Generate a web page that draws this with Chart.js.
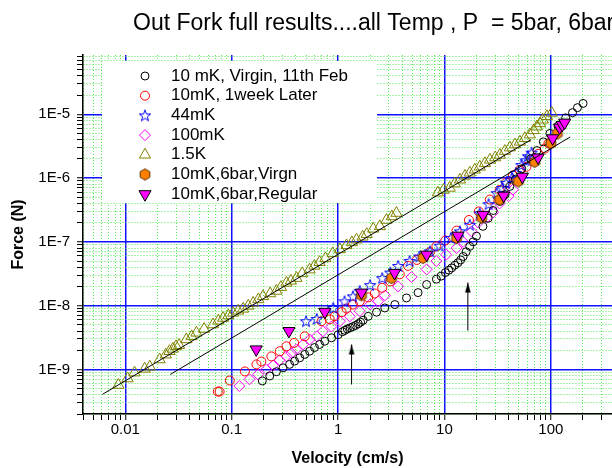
<!DOCTYPE html>
<html>
<head>
<meta charset="utf-8">
<script src="https://cdn.jsdelivr.net/npm/chart.js@4.4.0/dist/chart.umd.min.js"></script>
<style>
html,body{margin:0;padding:0;background:#fff;}
#wrap{width:612px;height:468px;}
</style>
</head>
<body>
<div id="wrap"><canvas id="myChart" width="612" height="468"></canvas></div>
<script>
// Out Fork force vs velocity, log-log
const chartTitle = 'Out Fork full results....all Temp , P  = 5bar, 6bar';
const xTitle = 'Velocity (cm/s)';
const yTitle = 'Force (N)';
const xRange = [0.004, 376];
const yRange = [2e-10, 8.5e-5];

const seriesLabels = ['10 mK, Virgin, 11th Feb', '10mK, 1week Later', '44mK', '100mK', '1.5K', '10mK,6bar,Virgn', '10mK,6bar,Regular'];

// 10 mK virgin (black open circles)
const virginV = [0.194,0.228,0.263,0.304,0.35,0.39,0.436,0.486,0.54,0.6,0.67,0.75,0.87,1.0,1.1,1.16,1.22,1.3,1.38,1.46,1.55,1.63,1.72,1.92,2.3,2.75,3.42,4.4,5.65,6.8,8.4,9.3,10.2,11.0,11.7,12.5,13.4,14.2,15,16,17.3,18.6,20,23,25.8,28.7,33.2,37.2,41.2,46.4,53.3,64.5,74,85,98,117,138,160,178,201];
const virginF = [6.6e-10,7.9e-10,9.2e-10,1.06e-9,1.2e-9,1.35e-9,1.52e-9,1.72e-9,1.93e-9,2.2e-9,2.46e-9,2.77e-9,3.13e-9,3.5e-9,3.9e-9,4.1e-9,4.3e-9,4.5e-9,4.7e-9,4.9e-9,5.2e-9,5.5e-9,5.9e-9,6.8e-9,7.9e-9,9.2e-9,1.04e-8,1.32e-8,1.6e-8,2.14e-8,2.6e-8,2.9e-8,3.3e-8,3.6e-8,3.9e-8,4.3e-8,4.7e-8,5.2e-8,5.9e-8,7.0e-8,8.5e-8,1.0e-7,1.23e-7,1.75e-7,2.35e-7,3.1e-7,4.3e-7,5.5e-7,7.4e-7,9.6e-7,1.4e-6,2.0e-6,2.7e-6,3.7e-6,5.0e-6,6.5e-6,8.8e-6,1.06e-5,1.27e-5,1.48e-5];

// 10mK one week later (red open circles)
const weekV = [0.074,0.077,0.096,0.133,0.171,0.19,0.236,0.283,0.327,0.386,0.486,0.70,0.835,0.93,1.08,1.2,1.38,1.6,1.92,2.21,2.6,3.1,3.8,4.55,5.5,6.4,7.3,8.4,10.2,13,17,21,26.7,33,38,44,51,59,69,76,88,95];
const weekF = [4.5e-10,4.5e-10,6.7e-10,9.3e-10,1.2e-9,1.33e-9,1.6e-9,1.93e-9,2.3e-9,2.6e-9,3.3e-9,5.7e-9,6.1e-9,6.8e-9,7.9e-9,9.0e-9,1.04e-8,1.17e-8,1.35e-8,1.55e-8,1.9e-8,2.4e-8,3.1e-8,4.2e-8,5.2e-8,6.0e-8,6.9e-8,8.5e-8,1.05e-7,1.5e-7,2.2e-7,3.0e-7,4.6e-7,6.5e-7,8.5e-7,1.1e-6,1.34e-6,1.5e-6,2.0e-6,2.4e-6,2.9e-6,3.5e-6];

// 44 mK (blue stars)
const mk44V = [0.5,0.63,0.9,1.15,1.38,1.6,2.0,2.6,3.1,3.67,4.7,5.8,7.3,9,11.5,14,17.3,21.5,26,31,35,38,43,47,53,58,61,66];
const mk44F = [5.7e-9,6.2e-9,9.2e-9,1.17e-8,1.4e-8,1.7e-8,2.1e-8,2.7e-8,3.3e-8,4.2e-8,5.0e-8,5.9e-8,7.1e-8,8.7e-8,1.15e-7,1.46e-7,1.85e-7,2.8e-7,3.9e-7,5.8e-7,7.0e-7,8.4e-7,1.0e-6,1.2e-6,1.6e-6,1.9e-6,2.2e-6,2.5e-6];

// 100 mK (magenta open diamonds)
const mk100V = [0.118,0.147,0.177,0.212,0.245,0.283,0.327,0.365,0.406,0.47,0.54,0.63,0.72,0.866,1.04,1.29,1.6,2.0,2.38,2.75,3.67,4.9,6.8,8.4,10.4,13,15,18,20.8,25,28.7,33,40,44];
const mk100F = [5.5e-10,7.0e-10,8.3e-10,1.0e-9,1.15e-9,1.4e-9,1.6e-9,1.8e-9,2.06e-9,2.46e-9,2.95e-9,3.3e-9,3.97e-9,4.7e-9,5.7e-9,6.8e-9,8.2e-9,1.04e-8,1.17e-8,1.45e-8,2.0e-8,2.8e-8,3.7e-8,5.0e-8,6.3e-8,8.0e-8,1.0e-7,1.45e-7,2.0e-7,2.4e-7,2.9e-7,4.0e-7,5.2e-7,6.6e-7];

// 1.5 K (olive open triangles)
const k15V = [0.0086,0.0105,0.0122,0.0152,0.017,0.021,0.024,0.026,0.028,0.030,0.032,0.0375,0.042,0.0466,0.055,0.0667,0.075,0.083,0.093,0.103,0.115,0.128,0.143,0.159,0.178,0.197,0.23,0.263,0.29,0.327,0.36,0.406,0.46,0.54,0.6,0.67,0.76,0.89,1.04,1.2,1.35,1.49,1.7,1.86,2.14,2.47,2.85,3.2,3.54,
  8.67,9.8,11.2,12.5,14,15.6,17.3,19.3,21.5,24,26.8,30,33.2,37,41.2,46,51.2,57,63.5,69,74,79,84,92,102];
const k15F = [5.7e-10,7.2e-10,8.9e-10,1.02e-9,1.1e-9,1.43e-9,1.7e-9,1.93e-9,2.1e-9,2.3e-9,2.4e-9,2.95e-9,3.3e-9,3.75e-9,4.3e-9,5.06e-9,5.8e-9,6.4e-9,7.0e-9,7.7e-9,8.3e-9,8.9e-9,9.9e-9,1.1e-8,1.25e-8,1.4e-8,1.55e-8,1.7e-8,1.95e-8,2.27e-8,2.45e-8,2.7e-8,3.2e-8,3.67e-8,4.2e-8,4.8e-8,5.5e-8,6.6e-8,7.6e-8,8.8e-8,9.8e-8,1.08e-7,1.2e-7,1.32e-7,1.6e-7,1.75e-7,2.2e-7,2.5e-7,2.83e-7,
  5.9e-7,6.5e-7,7.0e-7,8.2e-7,9.4e-7,1.08e-6,1.21e-6,1.35e-6,1.5e-6,1.7e-6,1.93e-6,2.1e-6,2.3e-6,2.65e-6,3.0e-6,3.35e-6,3.7e-6,4.2e-6,4.8e-6,5.6e-6,6.4e-6,7.2e-6,8.2e-6,9.3e-6,1.05e-5];

// 10mK 6bar virgin (orange filled)
const bar6VirgnV = [1.66,3.18,6.3,13,22.4,33,49.5,70.5,100,115];
const bar6VirgnF = [1.45e-8,2.7e-8,5.6e-8,1.15e-7,2.4e-7,4.6e-7,8.9e-7,1.8e-6,3.5e-6,5.0e-6];

// 10mK 6bar regular (magenta filled down triangles)
const bar6RegV = [0.17,0.345,0.75,1.66,3.4,6.8,13.4,23,36,54,76,104,121,128,135];
const bar6RegF = [2.06e-9,4.0e-9,8.0e-9,1.6e-8,3.26e-8,6.3e-8,1.25e-7,2.65e-7,5.3e-7,1.05e-6,2.1e-6,4.2e-6,6.2e-6,6.8e-6,7.4e-6];

// straight guide lines
const fit1V = [0.0061, 65];
const fit1F = [4.07e-10, 3.99e-6];
const fit2V = [0.0265, 152];
const fit2F = [8.35e-10, 4.4e-6];

// arrows (tail, tip)
const arrow1V = [1.34, 1.34];
const arrow1F = [5.8e-10, 2.46e-9];
const arrow2V = [16.6, 16.6];
const arrow2F = [4.07e-9, 2.3e-8];

const pts = (xs, ys) => xs.map((x, i) => ({x: x, y: ys[i]}));

const isDecade = (v) => {
  const l = Math.log10(v);
  return Math.abs(l - Math.round(l)) < 1e-6;
};

function logTicks(min, max) {
  const out = [];
  for (let k = Math.floor(Math.log10(min)); k <= Math.ceil(Math.log10(max)); k++) {
    for (let m = 1; m <= 9; m++) {
      const v = Number((m * Math.pow(10, k)).toPrecision(6));
      if (v >= min && v <= max) out.push({value: v});
    }
  }
  return out;
}

// small marker images
function starImg() {
  const c = document.createElement('canvas');
  c.width = 14; c.height = 14;
  const g = c.getContext('2d');
  g.beginPath();
  for (let i = 0; i < 10; i++) {
    const r = i % 2 ? 2.4 : 6;
    const a = -Math.PI / 2 + i * Math.PI / 5;
    const px = 7 + r * Math.cos(a), py = 7.5 + r * Math.sin(a);
    i ? g.lineTo(px, py) : g.moveTo(px, py);
  }
  g.closePath();
  g.strokeStyle = '#0000ff';
  g.lineWidth = 1;
  g.stroke();
  return c;
}

function hexImg() {
  const c = document.createElement('canvas');
  c.width = 14; c.height = 14;
  const g = c.getContext('2d');
  g.beginPath();
  for (let i = 0; i < 6; i++) {
    const a = -Math.PI / 2 + i * Math.PI / 3;
    const px = 7 + 5.6 * Math.cos(a), py = 7 + 5.6 * Math.sin(a);
    i ? g.lineTo(px, py) : g.moveTo(px, py);
  }
  g.closePath();
  g.fillStyle = '#ff8000';
  g.fill();
  g.strokeStyle = '#5a2d00';
  g.lineWidth = 1;
  g.stroke();
  return c;
}

function arrowImg() {
  const c = document.createElement('canvas');
  c.width = 8; c.height = 22;
  const g = c.getContext('2d');
  g.beginPath();
  g.moveTo(4, 11);
  g.lineTo(1.2, 21);
  g.lineTo(6.8, 21);
  g.closePath();
  g.fillStyle = '#000';
  g.fill();
  return c;
}

const FONT = '"Liberation Sans", Arial, sans-serif';
Chart.defaults.font.family = FONT;
Chart.defaults.color = '#000';

const titlePlugin = {
  id: 'topTitle',
  afterDraw(chart) {
    const ctx = chart.ctx;
    ctx.save();
    ctx.font = '23px ' + FONT;
    ctx.fillStyle = '#000';
    ctx.textAlign = 'left';
    ctx.textBaseline = 'alphabetic';
    ctx.fillText(chartTitle, 133, 30);
    ctx.restore();
  }
};

const legendBox = {
  id: 'legendBox',
  beforeDatasetsDraw(chart) {
    const {ctx, chartArea} = chart;
    const x0 = chartArea.left + 19, y0 = chartArea.top + 6;
    ctx.save();
    ctx.fillStyle = '#fff';
    ctx.fillRect(x0, y0, 275, 142);
    ctx.font = '17px ' + FONT;
    ctx.textBaseline = 'middle';
    chart.data.datasets.filter(d => d.inLegend).forEach((d, i) => {
      const y = y0 + 15 + i * 19.7;
      ctx.fillStyle = d.backgroundColor;
      ctx.strokeStyle = d.borderColor;
      ctx.lineWidth = d.borderWidth;
      Chart.helpers.drawPoint(ctx, {
        pointStyle: d.pointStyle,
        rotation: d.pointRotation || 0,
        radius: d.pointRadius,
        borderWidth: d.borderWidth
      }, x0 + 43, y);
      ctx.fillStyle = '#000';
      ctx.fillText(d.label, x0 + 69, y);
    });
    ctx.restore();
  }
};

const NONE = 'rgba(0,0,0,0)';
const star = starImg(), hex = hexImg(), arrowHead = arrowImg();

const datasets = [
  {label: 'fit1', data: pts(fit1V, fit1F), showLine: true, borderColor: '#000', borderWidth: 1, pointRadius: 0, order: 0},
  {label: 'fit2', data: pts(fit2V, fit2F), showLine: true, borderColor: '#000', borderWidth: 1, pointRadius: 0, order: 0},
  {label: 'arrow1', data: pts(arrow1V, arrow1F), showLine: true, borderColor: '#000', borderWidth: 1, pointRadius: [0, 5], pointStyle: arrowHead, order: 0},
  {label: 'arrow2', data: pts(arrow2V, arrow2F), showLine: true, borderColor: '#000', borderWidth: 1, pointRadius: [0, 5], pointStyle: arrowHead, order: 0},
  {label: seriesLabels[0], inLegend: true, data: pts(virginV, virginF), pointStyle: 'circle', pointRadius: 4, borderWidth: 1, borderColor: '#000', backgroundColor: NONE, order: 4},
  {label: seriesLabels[1], inLegend: true, data: pts(weekV, weekF), pointStyle: 'circle', pointRadius: 4.5, borderWidth: 1, borderColor: '#ff0000', backgroundColor: NONE, order: 6},
  {label: seriesLabels[2], inLegend: true, data: pts(mk44V, mk44F), pointStyle: star, pointRadius: 5, borderWidth: 1, borderColor: '#0000ff', backgroundColor: NONE, order: 5},
  {label: seriesLabels[3], inLegend: true, data: pts(mk100V, mk100F), pointStyle: 'rectRot', pointRadius: 5.5, borderWidth: 1, borderColor: '#ff00ff', backgroundColor: NONE, order: 7},
  {label: seriesLabels[4], inLegend: true, data: pts(k15V, k15F), pointStyle: 'triangle', pointRadius: 6.5, borderWidth: 1, borderColor: '#808000', backgroundColor: NONE, order: 8},
  {label: seriesLabels[5], inLegend: true, data: pts(bar6VirgnV, bar6VirgnF), pointStyle: hex, pointRadius: 6, borderWidth: 1, borderColor: '#5a2d00', backgroundColor: '#ff8000', order: 2},
  {label: seriesLabels[6], inLegend: true, data: pts(bar6RegV, bar6RegF), pointStyle: 'triangle', pointRotation: 180, pointRadius: 7, borderWidth: 1, borderColor: '#000', backgroundColor: '#ff00ff', order: 1}
];

const gridColor = (c) => (c.tick && isDecade(c.tick.value)) ? '#1010ff' : '#55e855';
const gridWidth = (c) => (c.tick && isDecade(c.tick.value)) ? 1.5 : 1;
const gridDash = (c) => (c.tick && !isDecade(c.tick.value)) ? [1, 2] : [];

const myChart = new Chart(document.getElementById('myChart'), {
  type: 'scatter',
  data: {datasets: datasets},
  options: {
    responsive: false,
    animation: false,
    devicePixelRatio: 1,
    layout: {autoPadding: false, padding: {top: 55, right: 0, left: 0, bottom: 0}},
    plugins: {legend: {display: false}, tooltip: {enabled: false}, title: {display: false}},
    scales: {
      x: {
        type: 'logarithmic',
        min: xRange[0], max: xRange[1],
        afterBuildTicks: (s) => { s.ticks = logTicks(xRange[0], xRange[1]); },
        afterFit: (s) => { s.height = 54; s.paddingLeft = 0; s.paddingRight = 0; },
        ticks: {
          autoSkip: false, maxRotation: 0, minRotation: 0, padding: 1,
          font: {size: 15},
          callback: (v) => isDecade(v) ? String(v) : ''
        },
        grid: {color: gridColor, lineWidth: gridWidth, tickColor: '#000', tickWidth: 1, tickLength: 6},
        border: {color: '#000', width: 1.5, dash: gridDash},
        title: {display: true, text: xTitle, font: {size: 16, weight: 'bold'}, padding: {top: 0, bottom: 0}}
      },
      y: {
        type: 'logarithmic',
        min: yRange[0], max: yRange[1],
        afterBuildTicks: (s) => { s.ticks = logTicks(yRange[0], yRange[1]); },
        afterFit: (s) => { s.width = 83; s.paddingTop = 0; s.paddingBottom = 0; },
        ticks: {
          autoSkip: false, padding: 7,
          font: {size: 15},
          callback: (v) => isDecade(v) ? '1E' + Math.round(Math.log10(v)) : ''
        },
        grid: {color: gridColor, lineWidth: gridWidth, tickColor: '#000', tickWidth: 1, tickLength: 6},
        border: {color: '#000', width: 1.5, dash: gridDash},
        title: {display: true, text: yTitle, font: {size: 16, weight: 'bold'}, padding: {top: 9, bottom: 0}}
      }
    }
  },
  plugins: [legendBox, titlePlugin]
});
</script>
</body>
</html>
